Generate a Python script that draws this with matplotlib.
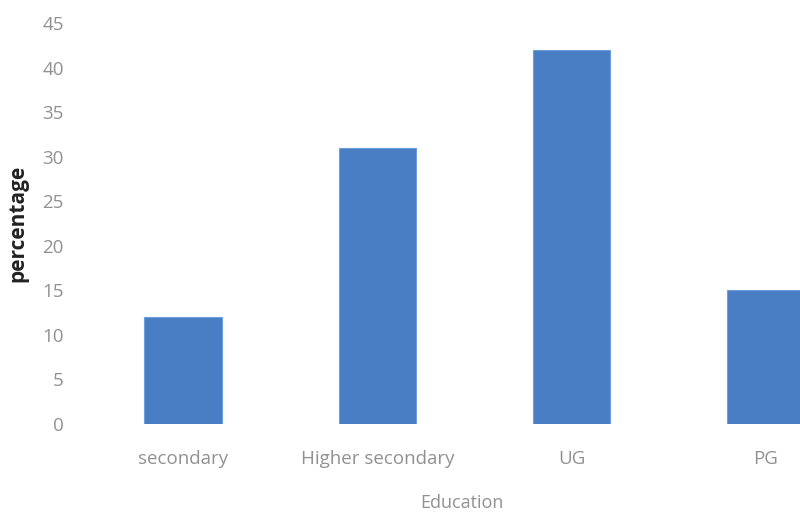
import matplotlib.pyplot as plt
import numpy as np

categories = ['secondary', 'Higher secondary', 'UG', 'PG']
percentages = [12, 31, 42, 15]
y_ticks = [0, 5, 10, 15, 20, 25, 30, 35, 40, 45]

plt.rcParams['font.family'] = ['Open Sans', 'DejaVu Sans']

fig = plt.figure(figsize=(8, 5.13), dpi=100)
# axes runs past the right edge, the reference is cropped there
ax = fig.add_axes([86/800, 1-424/513, 777/800, 401/513])

x = np.arange(len(categories))
ax.bar(x, percentages, width=0.4, color='#4a7ec4', edgecolor='#6d9fdc', linewidth=0.8)

ax.set_xlim(-0.5, len(categories) - 0.5)
ax.set_ylim(0, 45)
ax.set_yticks(y_ticks)
ax.set_xticks(x)
ax.set_xticklabels(categories)
ax.tick_params(axis='both', length=0, labelsize=13.5, labelcolor='#919191')
ax.tick_params(axis='y', pad=16)
ax.tick_params(axis='x', pad=19)
for s in ax.spines.values():
    s.set_visible(False)

fig.text(462/800, 1-503/513, 'Education', fontsize=13, color='#919191',
         ha='center', va='center')
fig.text(18/800, 1-223/513, 'percentage', rotation=90, fontsize=15,
         fontweight='bold', color='#222222', ha='center', va='center')

fig.savefig('out.png', dpi=100)
